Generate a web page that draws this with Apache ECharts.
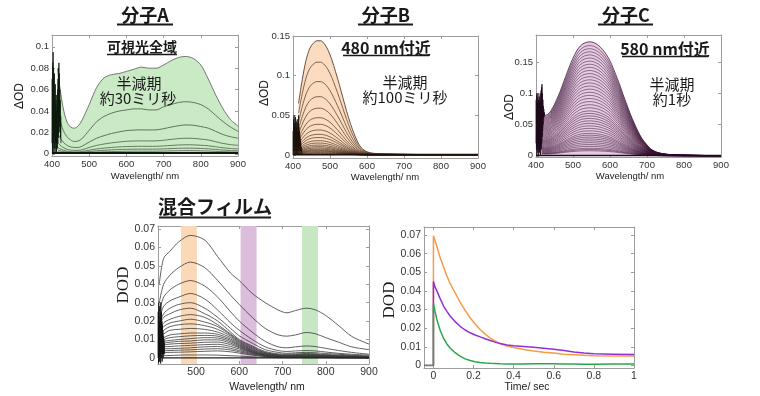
<!DOCTYPE html>
<html>
<head>
<meta charset="utf-8">
<script src="https://cdn.jsdelivr.net/npm/echarts@6.0.0/dist/echarts.min.js"></script>
<style>
html, body { margin: 0; padding: 0; background: #fff; }
#chart { width: 760px; height: 396px; }
</style>
</head>
<body>
<div id="chart"></div>
<script>
// ---------- 分子A ----------
const wlA = [415, 420, 430, 440, 450, 460, 470, 480, 500, 520, 540, 560, 580, 600, 620, 640, 660, 680, 700, 720, 740, 760, 780, 800, 820, 840, 860, 880, 900]
const specA1 = [0.080, 0.065, 0.043, 0.030, 0.025, 0.024, 0.026, 0.031, 0.046, 0.062, 0.071, 0.074, 0.075, 0.077, 0.079, 0.081, 0.080, 0.080, 0.083, 0.087, 0.090, 0.091, 0.089, 0.083, 0.070, 0.055, 0.042, 0.032, 0.026]
const specA2 = [0.040, 0.034, 0.022, 0.016, 0.013, 0.0115, 0.012, 0.014, 0.022, 0.030, 0.035, 0.038, 0.040, 0.041, 0.042, 0.042, 0.041, 0.041, 0.044, 0.046, 0.048, 0.0487, 0.048, 0.046, 0.042, 0.036, 0.030, 0.025, 0.021]
const specA3 = [0.020, 0.016, 0.011, 0.008, 0.0065, 0.006, 0.006, 0.007, 0.011, 0.0146, 0.017, 0.019, 0.0205, 0.0217, 0.0222, 0.0224, 0.0223, 0.0224, 0.0235, 0.025, 0.0263, 0.027, 0.0267, 0.0255, 0.024, 0.021, 0.018, 0.016, 0.0146]
// peak heights of the weaker traces (same shape as specA3)
const levelsA = [0.0146, 0.0085, 0.0053, 0.003]

// ---------- 分子B ----------
const wlB = [415, 425, 435, 445, 455, 465, 475, 485, 495, 505, 515, 525, 535, 545, 555, 565, 575, 585, 600, 620, 650, 700, 750, 800, 850, 900]
const specB1 = [0.065, 0.095, 0.119, 0.134, 0.141, 0.144, 0.144, 0.140, 0.132, 0.120, 0.105, 0.089, 0.072, 0.055, 0.040, 0.027, 0.016, 0.009, 0.004, 0.002, 0.0015, 0.001, 0.0005, 0.0003, 0.0002, 0.0]
const levelsB = [0.117, 0.0925, 0.0735, 0.059, 0.047, 0.0387, 0.0315, 0.026, 0.022, 0.018, 0.015, 0.0125, 0.0105, 0.0088, 0.0073, 0.006, 0.005, 0.004, 0.003, 0.002]

// ---------- 分子C ----------
const wlC = [415, 425, 435, 445, 455, 465, 475, 485, 495, 505, 515, 525, 535, 545, 555, 565, 575, 585, 595, 605, 615, 625, 635, 645, 655, 665, 675, 685, 695, 710, 730, 760, 800, 850, 900]
const specC1 = [0.072, 0.065, 0.068, 0.077, 0.089, 0.103, 0.119, 0.135, 0.150, 0.163, 0.173, 0.179, 0.182, 0.183, 0.182, 0.179, 0.174, 0.167, 0.158, 0.146, 0.131, 0.116, 0.099, 0.083, 0.067, 0.053, 0.040, 0.029, 0.021, 0.011, 0.005, 0.002, 0.001, 0.0005, 0.0]
const levelsC = [0.177, 0.172, 0.167, 0.162, 0.157, 0.152, 0.147, 0.142, 0.137, 0.132, 0.127, 0.122, 0.117, 0.112, 0.107, 0.102, 0.097, 0.092, 0.087, 0.082, 0.077, 0.072, 0.068, 0.064, 0.060, 0.056, 0.052, 0.048, 0.044, 0.040, 0.036, 0.033, 0.030, 0.027, 0.024, 0.021, 0.018, 0.015, 0.012, 0.010, 0.008]

// noisy start of the detector (400-424 nm)
const noiseWl = [400, 400.6, 401.2, 401.8, 402.4, 403, 403.6, 404.2, 404.8, 405.4, 406, 406.6, 407.2, 407.8, 408.4, 409, 409.6, 410.2, 410.8, 411.4, 412, 412.6, 413.2, 413.8, 414.4, 415, 415.6, 416.2, 416.8, 417.4, 418, 418.6, 419.2, 419.8, 420.4, 421, 421.6, 422.2, 422.8, 423.4, 424]
const noiseA = [0.01, 0.07, 0.0, 0.085, 0.005, 0.095, 0.01, 0.08, 0.0, 0.06, 0.015, 0.075, 0.005, 0.05, 0.0, 0.065, 0.01, 0.045, 0.005, 0.055, 0.0, 0.04, 0.01, 0.05, 0.005, 0.06, 0.01, 0.07, 0.015, 0.08, 0.02, 0.085, 0.025, 0.075, 0.03, 0.06, 0.02, 0.05, 0.015, 0.035, 0.01]
const noiseB = [0.0, 0.03, 0.005, 0.045, 0.0, 0.05, 0.01, 0.035, 0.0, 0.04, 0.005, 0.048, 0.0, 0.03, 0.01, 0.042, 0.0, 0.035, 0.005, 0.045, 0.0, 0.03, 0.01, 0.04, 0.005, 0.05, 0.0, 0.035, 0.01, 0.03, 0.005, 0.025, 0.01, 0.02, 0.005, 0.015, 0.0, 0.01, 0.005, 0.008, 0.002]
const noiseC = [0.02, 0.09, 0.01, 0.1, 0.0, 0.095, 0.015, 0.085, 0.005, 0.1, 0.01, 0.09, 0.0, 0.08, 0.02, 0.095, 0.005, 0.085, 0.01, 0.1, 0.0, 0.09, 0.015, 0.105, 0.01, 0.11, 0.02, 0.115, 0.03, 0.1, 0.04, 0.09, 0.05, 0.08, 0.06, 0.075, 0.062, 0.07, 0.065, 0.068, 0.066]

// ---------- 混合フィルム ----------
const wlD = [415, 425, 440, 460, 487, 520, 550, 580, 600, 630, 660, 690, 710, 730, 755, 775, 800, 830, 860, 900]
const specD = [
  [0.040, 0.054, 0.058, 0.063, 0.0665, 0.064, 0.055, 0.046, 0.042, 0.035, 0.030, 0.026, 0.0245, 0.0257, 0.027, 0.0262, 0.023, 0.0175, 0.0117, 0.0075],
  [0.030, 0.040, 0.045, 0.049, 0.052, 0.049, 0.042, 0.034, 0.029, 0.022, 0.016, 0.0125, 0.0118, 0.0125, 0.0138, 0.0132, 0.011, 0.0085, 0.006, 0.0045],
  [0.025, 0.033, 0.037, 0.040, 0.042, 0.039, 0.033, 0.025, 0.020, 0.014, 0.009, 0.006, 0.0055, 0.006, 0.0065, 0.0062, 0.0052, 0.004, 0.003, 0.002],
  [0.021, 0.028, 0.031, 0.033, 0.035, 0.032, 0.026, 0.019, 0.015, 0.010, 0.006, 0.004, 0.0035, 0.0038, 0.004, 0.0038, 0.0032, 0.0025, 0.002, 0.0015],
  [0.018, 0.024, 0.027, 0.029, 0.030, 0.027, 0.022, 0.016, 0.012, 0.008, 0.0045, 0.003, 0.0025, 0.0028, 0.003, 0.0028, 0.0024, 0.002, 0.0015, 0.001],
  [0.017, 0.022, 0.024, 0.026, 0.027, 0.024, 0.020, 0.014, 0.010, 0.0065, 0.0035, 0.0022, 0.002, 0.0022, 0.0024, 0.0022, 0.0018, 0.0015, 0.0012, 0.0008],
  [0.015, 0.019, 0.021, 0.0225, 0.0235, 0.022, 0.018, 0.013, 0.0095, 0.006, 0.003, 0.0018, 0.0016, 0.0018, 0.002, 0.0018, 0.0015, 0.0012, 0.001, 0.0007],
  [0.014, 0.017, 0.019, 0.020, 0.021, 0.0195, 0.017, 0.0125, 0.009, 0.0055, 0.0028, 0.0016, 0.0014, 0.0015, 0.0017, 0.0016, 0.0013, 0.001, 0.0008, 0.0006],
  [0.012, 0.015, 0.017, 0.018, 0.0185, 0.0175, 0.0155, 0.0118, 0.0085, 0.005, 0.0025, 0.0014, 0.0012, 0.0013, 0.0015, 0.0014, 0.0012, 0.0009, 0.0007, 0.0005],
  [0.011, 0.013, 0.015, 0.0155, 0.016, 0.0155, 0.014, 0.011, 0.008, 0.0045, 0.0022, 0.0012, 0.001, 0.0011, 0.0013, 0.0012, 0.001, 0.0008, 0.0006, 0.0004],
  [0.010, 0.011, 0.0125, 0.013, 0.0135, 0.0135, 0.0128, 0.0102, 0.0075, 0.0042, 0.002, 0.0011, 0.0009, 0.001, 0.0011, 0.001, 0.0009, 0.0007, 0.0005, 0.0003],
  [0.009, 0.010, 0.011, 0.0115, 0.012, 0.0122, 0.0118, 0.0095, 0.007, 0.0038, 0.0018, 0.001, 0.0008, 0.0009, 0.001, 0.0009, 0.0008, 0.0006, 0.0004, 0.0003],
  [0.008, 0.009, 0.0095, 0.010, 0.0105, 0.011, 0.0108, 0.0088, 0.0065, 0.0035, 0.0016, 0.0009, 0.0007, 0.0008, 0.0009, 0.0008, 0.0007, 0.0005, 0.0004, 0.0002],
  [0.007, 0.008, 0.0085, 0.009, 0.0092, 0.0098, 0.0098, 0.008, 0.006, 0.0032, 0.0015, 0.0008, 0.0006, 0.0007, 0.0008, 0.0007, 0.0006, 0.0005, 0.0003, 0.0002],
  [0.006, 0.007, 0.0075, 0.0078, 0.008, 0.0085, 0.0086, 0.0072, 0.0055, 0.003, 0.0014, 0.0007, 0.0005, 0.0006, 0.0007, 0.0006, 0.0005, 0.0004, 0.0003, 0.0002],
  [0.005, 0.006, 0.0062, 0.0065, 0.0068, 0.0072, 0.0074, 0.0062, 0.0048, 0.0027, 0.0012, 0.0006, 0.0004, 0.0005, 0.0006, 0.0005, 0.0004, 0.0003, 0.0002, 0.0001],
  [0.004, 0.005, 0.005, 0.0052, 0.0055, 0.006, 0.0062, 0.0052, 0.004, 0.0023, 0.001, 0.0005, 0.0003, 0.0004, 0.0005, 0.0004, 0.0003, 0.0002, 0.0002, 0.0001],
  [0.003, 0.0038, 0.004, 0.0042, 0.0044, 0.0048, 0.005, 0.0043, 0.0033, 0.0019, 0.0009, 0.0004, 0.0003, 0.0003, 0.0004, 0.0003, 0.0003, 0.0002, 0.0001, 0.0001],
  [0.002, 0.0028, 0.003, 0.0031, 0.0033, 0.0036, 0.0038, 0.0033, 0.0026, 0.0015, 0.0007, 0.0003, 0.0002, 0.0002, 0.0003, 0.0002, 0.0002, 0.0001, 0.0001, 0.0],
  [0.001, 0.0012, 0.0013, 0.0015, 0.0016, 0.0016, 0.0015, 0.0012, 0.001, 0.0006, 0.0003, 0.0001, 0.0001, 0.0001, 0.0001, 0.0001, 0.0001, 0.0, 0.0, 0.0]
]
const noiseWlD = [412, 412.6, 413.2, 413.8, 414.4, 415, 415.6, 416.2, 416.8, 417.4, 418, 418.6, 419.2, 419.8, 420.4, 421, 421.6, 422.2, 422.8, 423.4, 424, 424.6, 425.2, 425.8, 426.4, 427]
const noiseD = [0.0, 0.025, -0.003, 0.03, 0.0, 0.02, -0.002, 0.028, 0.002, 0.022, -0.003, 0.03, 0.0, 0.025, 0.003, 0.02, -0.002, 0.018, 0.002, 0.015, 0.0, 0.012, 0.003, 0.01, 0.002, 0.008]
// probe wavelength bands (nm)
const bandsD = [[465, 502, '#fcd9b6'], [603, 640, '#dcbddc'], [745, 782, '#c6e7c2']]

// ---------- kinetics ----------
const tE = [0, 0.008, 0.017, 0.033, 0.05, 0.067, 0.083, 0.108, 0.133, 0.158, 0.183, 0.208, 0.233, 0.258, 0.283, 0.308, 0.333, 0.367, 0.4, 0.45, 0.5, 0.55, 0.6, 0.65, 0.7, 0.75, 0.8, 0.9, 1.0]
const orangeE = [0.0696, 0.067, 0.064, 0.058, 0.053, 0.048, 0.044, 0.039, 0.034, 0.0295, 0.0256, 0.0222, 0.0193, 0.0168, 0.0147, 0.013, 0.0116, 0.0104, 0.0096, 0.0085, 0.0077, 0.0071, 0.0066, 0.006, 0.0057, 0.0054, 0.0052, 0.005, 0.005]
const purpleE = [0.045, 0.042, 0.040, 0.036, 0.032, 0.029, 0.0265, 0.0235, 0.021, 0.019, 0.0175, 0.0163, 0.0153, 0.0143, 0.0134, 0.0125, 0.0117, 0.011, 0.0105, 0.0101, 0.0097, 0.0092, 0.0087, 0.008, 0.0072, 0.0066, 0.0062, 0.006, 0.0058]
const greenE = [0.0333, 0.029, 0.0247, 0.019, 0.0147, 0.0115, 0.0093, 0.0068, 0.005, 0.0035, 0.0026, 0.002, 0.0016, 0.0013, 0.0011, 0.001, 0.0009, 0.0008, 0.0008, 0.0008, 0.0009, 0.0009, 0.0009, 0.0008, 0.0007, 0.0006, 0.0006, 0.0007, 0.0008]
const preT = [-0.047, 0]
const preE = [0, 0]

// tick labels
const ticksWl = [400, 500, 600, 700, 800, 900]
const ticksWlD = [500, 600, 700, 800, 900]
const ticksA = [0, 0.02, 0.04, 0.06, 0.08, 0.1]
const ticksBC = [0, 0.05, 0.1, 0.15]
const ticksD = [0, 0.01, 0.02, 0.03, 0.04, 0.05, 0.06, 0.07]
const ticksT = [0, 0.2, 0.4, 0.6, 0.8, 1]

const GREY = '#9d9d9d'
const LABEL = '#333'
const SANS = '"Liberation Sans", Arial, sans-serif'
const JP = '"Noto Sans CJK JP", sans-serif'
const SERIF = '"Liberation Serif", "Times New Roman", serif'

const chart = echarts.init(document.getElementById('chart'))

const grids = [
  { left: 52, top: 35, width: 186, height: 121 },
  { left: 293, top: 36, width: 185, height: 122 },
  { left: 536, top: 35, width: 185, height: 122 },
  { left: 158, top: 226, width: 211, height: 138 },
  { left: 424, top: 227, width: 210, height: 141 }
]
const ranges = [
  { x: [400, 900], xt: ticksWl, y: [-0.002, 0.111], yt: ticksA, fs: 9.5 },
  { x: [400, 900], xt: ticksWl, y: [-0.0038, 0.15], yt: ticksBC, fs: 9.5 },
  { x: [400, 900], xt: ticksWl, y: [-0.002, 0.194], yt: ticksBC, fs: 9.5 },
  { x: [412, 900], xt: ticksWlD, y: [-0.0033, 0.0716], yt: ticksD, fs: 10.5 },
  { x: [-0.047, 1], xt: ticksT, y: [-0.0014, 0.0743], yt: ticksD, fs: 10.5 }
]

const xAxis = []
const yAxis = []
ranges.forEach((r, g) => {
  const line = { show: true, onZero: false, lineStyle: { color: GREY, width: 1 } }
  const tick = (vals) => ({ show: true, inside: true, length: 3, customValues: vals, lineStyle: { color: GREY } })
  const label = (vals) => ({ customValues: vals, fontSize: r.fs, color: LABEL, fontFamily: SANS, margin: 3 })
  xAxis.push({ type: 'value', gridIndex: g, position: 'bottom', min: r.x[0], max: r.x[1],
    axisLine: line, axisTick: tick(r.xt), axisLabel: label(r.xt), splitLine: { show: false } })
  xAxis.push({ type: 'value', gridIndex: g, position: 'top', min: r.x[0], max: r.x[1],
    axisLine: line, axisTick: tick(r.xt), axisLabel: { show: false }, splitLine: { show: false } })
  yAxis.push({ type: 'value', gridIndex: g, position: 'left', min: r.y[0], max: r.y[1],
    axisLine: line, axisTick: tick(r.yt), axisLabel: label(r.yt), splitLine: { show: false } })
  yAxis.push({ type: 'value', gridIndex: g, position: 'right', min: r.y[0], max: r.y[1],
    axisLine: line, axisTick: tick(r.yt), axisLabel: { show: false }, splitLine: { show: false } })
})

const series = []
const pairs = (xs, ys) => xs.map((x, i) => [x, ys[i]])
const scaled = (xs, shape, peak, level) => xs.map((x, i) => [x, shape[i] * level / peak])
function addLine(g, data, color, width, extra) {
  series.push(Object.assign({
    type: 'line', xAxisIndex: 2 * g, yAxisIndex: 2 * g, data,
    showSymbol: false, symbol: 'none', smooth: 0.3, silent: true,
    lineStyle: { color, width }
  }, extra || {}))
}

// A
addLine(0, pairs(wlA, specA1), '#5f6e5c', 0.9, { areaStyle: { color: '#c9eac4', opacity: 1 } })
addLine(0, pairs(wlA, specA2), '#55654f', 0.9)
addLine(0, pairs(wlA, specA3), '#55654f', 0.9)
levelsA.forEach(l => addLine(0, scaled(wlA, specA3, 0.027, l), '#4d5d48', 0.8))
addLine(0, pairs(noiseWl, noiseA), '#0d1a0d', 0.8, { smooth: false })
addLine(0, pairs([400, 900], [0.0008, 0.0008]), '#0d1a0d', 2.2, { smooth: false })

// B
addLine(1, pairs(wlB, specB1), '#5a4030', 0.9, { areaStyle: { color: '#fbdcc0', opacity: 1 } })
levelsB.forEach(l => addLine(1, scaled(wlB, specB1, 0.144, l), '#4a3020', 0.7))
addLine(1, pairs(noiseWl, noiseB), '#1c1008', 0.8, { smooth: false })
addLine(1, pairs([400, 900], [0.0005, 0.0005]), '#1c1008', 1.6, { smooth: false })

// C
addLine(2, pairs(wlC, specC1), '#3b1638', 0.8, { areaStyle: { color: '#e6cbe2', opacity: 1 } })
levelsC.forEach(l => addLine(2, scaled(wlC, specC1, 0.183, l), '#3b1436', 0.55))
addLine(2, pairs(noiseWl, noiseC), '#1e0a1c', 0.8, { smooth: false })
addLine(2, pairs([400, 900], [0.0005, 0.0005]), '#1e0a1c', 1.6, { smooth: false })

// D (bands first, lowest trace first)
const dOrder = specD.slice().reverse()
dOrder.forEach((s, i) => {
  const extra = i === 0 ? {
    markArea: {
      silent: true,
      data: bandsD.map(b => [{ xAxis: b[0], itemStyle: { color: b[2] } }, { xAxis: b[1] }])
    }
  } : null
  addLine(3, pairs(wlD, s), '#3a3a3a', 0.8, extra)
})
addLine(3, pairs(noiseWlD, noiseD), '#111', 0.8, { smooth: false })
addLine(3, pairs([412, 900], [0.0, 0.0]), '#222', 1.2, { smooth: false })

// E
addLine(4, pairs(preT, preE), '#777', 1.6, { smooth: false })
addLine(4, [[0, 0]].concat(pairs(tE, orangeE)), '#f59b45', 1.5, { smooth: false })
addLine(4, [[0, 0]].concat(pairs(tE, purpleE)), '#9430d3', 1.5, { smooth: false })
addLine(4, [[0, 0]].concat(pairs(tE, greenE)), '#2aa64b', 1.5, { smooth: false })

// texts
const graphic = []
function txt(x, y, text, font, rot) {
  graphic.push({
    type: 'text', x, y, rotation: rot || 0, z: 100, silent: true,
    style: { text, font, fill: '#1a1a1a', textAlign: 'center', textVerticalAlign: 'middle', align: 'center', verticalAlign: 'middle' }
  })
}
function uline(x1, x2, y, w) {
  graphic.push({ type: 'line', z: 100, silent: true, shape: { x1, y1: y, x2, y2: y }, style: { stroke: '#1a1a1a', lineWidth: w } })
}

const TITLE = 'bold 18px ' + JP
txt(145, 15, '分子A', TITLE); uline(117, 173, 24.5, 2)
txt(386, 15, '分子B', TITLE); uline(358, 413, 24.5, 2)
txt(626, 15, '分子C', TITLE); uline(598, 653, 24.5, 2)
txt(215, 207, '混合フィルム', 'bold 19px ' + JP); uline(159, 271, 217.5, 2)

txt(142, 47, '可視光全域', 'bold 14px ' + JP); uline(107, 177, 54.5, 1.5)
txt(386, 48, '480 nm付近', 'bold 16px ' + JP); uline(343, 429, 55.5, 1.5)
txt(665, 49, '580 nm付近', 'bold 16px ' + JP); uline(622, 708, 56.5, 1.5)

const NOTE = '15px ' + JP
txt(139, 83, '半減期', NOTE); txt(138, 98, '約30ミリ秒', NOTE)
txt(405, 82, '半減期', NOTE); txt(405, 97, '約100ミリ秒', NOTE)
txt(672, 84, '半減期', NOTE); txt(672, 99, '約1秒', NOTE)

const YL = '12px ' + SANS
txt(20, 96, 'ΔOD', YL, Math.PI / 2)
txt(265, 93, 'ΔOD', YL, Math.PI / 2)
txt(510, 107, 'ΔOD', YL, Math.PI / 2)
txt(124, 285, 'DOD', '17px ' + SERIF, Math.PI / 2)
txt(390, 300, 'DOD', '17px ' + SERIF, Math.PI / 2)

const XL = '9.5px ' + SANS
txt(145, 176, 'Wavelength/ nm', XL)
txt(385, 177, 'Wavelength/ nm', XL)
txt(630, 176, 'Wavelength/ nm', XL)
txt(267, 387, 'Wavelength/ nm', '10.5px ' + SANS)
txt(527, 387, 'Time/ sec', '10.5px ' + SANS)

chart.setOption({
  animation: false,
  backgroundColor: '#fff',
  grid: grids.map(g => Object.assign({ show: false, containLabel: false }, g)),
  xAxis,
  yAxis,
  series,
  graphic
})
</script>
</body>
</html>
